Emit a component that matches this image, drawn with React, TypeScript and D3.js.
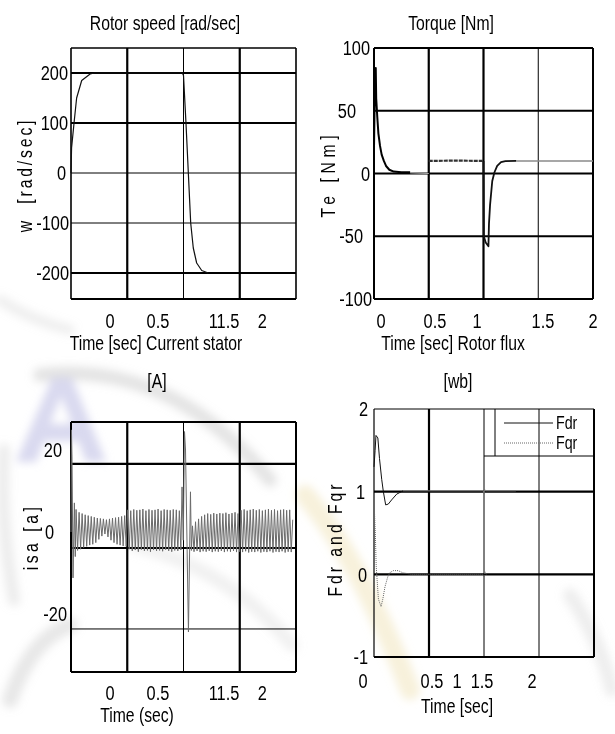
import { useEffect, useRef } from 'react'
import * as d3 from 'd3'

type Pt = [number, number]

// ---------- data ----------

// rotor speed [rad/s] vs time [s]
const speedPts: Pt[] = [
  [0, 0], [0.005, 50], [0.027, 100], [0.05, 150], [0.095, 185], [0.17, 198], [0.21, 200],
  [0.99, 200], [1.0, 195], [1.022, 100], [1.043, 0], [1.064, -100], [1.087, -150],
  [1.117, -180], [1.162, -195], [1.22, -200],
]
const speedTicks = [200, 100, 0, -100, -200]
const speedGridY = [200, 100, 0, -100, -200]

// electromagnetic torque [Nm]
const torqueStart: Pt[] = [
  [0, 20], [0.008, 70], [0.016, 84], [0.02, 60], [0.03, 45], [0.04, 32], [0.055, 22],
  [0.07, 15], [0.09, 10], [0.11, 6], [0.14, 3], [0.18, 1.5], [0.25, 1], [0.33, 1],
]
const torqueIdle: Pt[] = [[0.33, 0.5], [0.5, 0]]
const torqueLoad: Pt[] = [[0.5, 10], [0.75, 10.3], [1.0, 10]]
const torqueReverse: Pt[] = [
  [1.0, 10], [1.003, -50], [1.02, -55], [1.045, -58], [1.05, -40], [1.06, -25],
  [1.08, -6], [1.1, 1], [1.125, 6], [1.16, 9], [1.2, 9.8], [1.3, 10],
]
const torqueSteady: Pt[] = [[1.3, 10], [2.0, 10]]
const torqueTicks = [100, 50, 0, -50, -100]
const torqueGridY = [50, 0, -50]

// stator current isa [A]
const isaKick: Pt[] = [[0, 0], [0.004, 24.9], [0.009, 18.3], [0.018, -11.2], [0.03, 7.1], [0.038, -6]]
const isaWaveAStart = 0.045
const isaWaveA = [
  5.5, -4.5, 4.8, -4.2, 4.5, -3.8, 4.2, -3.5, 4.0, -3.2, 3.8, -3.0, 3.6, -2.6, 3.4, -1.8, 3.3,
  -1.0, 3.2, -0.5, 3.0, -1.2, 3.2, -2.0, 3.4, -2.6, 3.5, -3.0, 3.6, -3.2, 3.8, -3.4, 4.0, -3.5,
  5.4, -4.2, 5.2, -4.6, 5.5, -4.4, 5.3, -4.8, 5.4, -4.3, 5.6, -4.6, 5.2, -4.5, 5.5, -4.8, 5.3,
  -4.4, 5.4, -4.6, 5.6, -4.5, 5.2, -4.7, 5.5, -4.3, 5.4, -4.6, 5.3, -4.8, 5.5, -4.5, 5.4, -4.6,
  5.2, -4.4,
]
const isaStep: Pt[] = [
  [0.987, 11], [0.998, -2], [1.009, 24.5], [1.018, 20], [1.044, -24.4], [1.062, 9.8], [1.07, -4.5],
]
const isaWaveBStart = 1.08
const isaWaveB = [
  1.5, -4.8, 2.5, -4.6, 3.2, -4.9, 3.8, -4.7, 4.2, -4.8, 4.5, -4.6, 4.3, -4.9, 4.6, -4.7, 4.4,
  -4.8, 4.6, -4.6, 4.5, -4.9, 4.7, -4.7, 4.4, -4.8, 4.6, -4.6, 4.8, -4.9, 4.5,
  -4.8, 5.3, -4.9, 5.5, -4.7, 5.2, -5.0, 5.4, -4.8, 5.6, -4.9, 5.3, -4.7, 5.5, -5.0, 5.2, -4.8,
  5.4, -4.9, 5.6, -4.7, 5.3, -5.0, 5.5, -4.8, 5.2, -4.9, 5.4, -4.7, 5.5, -5.0, 5.3, -4.8, 5.4,
  -4.9, 3.0,
]
const isaSampleStep = 0.0135
const isaTicks = [20, 0, -20]
const isaGridY = [16.6, -3.9, -23.65]

// rotor flux components [Wb]
const fdrTransient: Pt[] = [
  [0, 1.3], [0.01, 1.5], [0.018, 1.68], [0.035, 1.65], [0.05, 1.4], [0.07, 1.15], [0.085, 1.0],
  [0.106, 0.84], [0.13, 0.85], [0.16, 0.9], [0.206, 0.97], [0.264, 1.01],
]
const fdrSteady: Pt[] = [
  [0.264, 1.01], [0.995, 1.01], [1.0, 0.97], [1.005, 1.03], [1.012, 1.01], [1.29, 1.01],
]
const fqrPts: Pt[] = [
  [0.005, 0.73], [0.012, 0.5], [0.02, 0.1], [0.04, -0.3], [0.064, -0.39], [0.08, -0.3],
  [0.1, -0.15], [0.125, -0.03], [0.145, 0.02], [0.175, 0.045], [0.22, 0.045], [0.26, 0.02],
  [0.34, 0.0], [0.99, 0], [1.0, -0.03], [1.01, 0.03], [1.02, 0],
]
const fluxTicks = [2, 1, 0, -1]
const fluxGridY = [1, 0]

const timeGridX = [0.5, 1, 1.5]
// tick labels as printed, at the time where each one sits in the figure
const timeLabelsA = ['0', '0.5', '11.5', '2']
const timeLabelPosA = [0.347, 0.773, 1.36, 1.7]
const timeLabelsB = ['0', '0.5', '1', '1.5', '2']
const timeLabelPosB = [0.064, 0.557, 0.94, 1.543, 2.0]
const timeLabelPosC = [-0.1, 0.527, 0.755, 0.982, 1.436]

const FONT = '"Liberation Sans", Arial, sans-serif'
// the figure uses a condensed Arial: squeeze Liberation Sans horizontally
const NARROW_TICK = 0.78
const NARROW_LABEL = 0.75

interface Panel {
  left: number
  top: number
  width: number
  height: number
  yDomain: [number, number]
  gridY: number[]
  gridYW: number[]
  gridXW: number[]
  border: [number, number, number, number] // top right bottom left
  ticks: number[]
  tickRight: number[] // right edge of each y tick label (the scan is not aligned)
  xLabels: string[]
  xLabelPos: number[]
  xLabelBase: number
}

export default function App() {
  const svgRef = useRef<SVGSVGElement>(null)

  useEffect(() => {
    if (!svgRef.current) return
    const svg = d3.select(svgRef.current)
    svg.selectAll('*').remove()

    const defs = svg.append('defs')
    defs.append('filter').attr('id', 'soft')
      .attr('x', '-20%').attr('y', '-20%').attr('width', '140%').attr('height', '140%')
      .append('feGaussianBlur').attr('stdDeviation', 4)

    // faint watermark behind the figure
    const wm = svg.append('g').attr('filter', 'url(#soft)')
    const band = (d: string, color: string, w: number, op: number) => {
      wm.append('path').attr('d', d).attr('fill', 'none')
        .attr('stroke', color).attr('stroke-width', w).attr('opacity', op)
        .attr('stroke-linecap', 'round')
    }
    band('M40,375 Q170,360 270,480', '#c4c4c4', 14, 0.45)
    band('M4,450 Q0,520 14,600', '#c8c8c8', 12, 0.35)
    band('M135,545 Q230,570 292,645', '#d6d6d6', 14, 0.35)
    band('M10,700 Q30,640 70,625', '#bdbdbd', 16, 0.35)
    band('M305,495 Q360,560 410,690', '#efe4b8', 20, 0.5)
    band('M570,595 Q600,640 612,690', '#cfcfcf', 14, 0.35)
    band('M0,300 Q30,320 70,330', '#c8c8c8', 10, 0.3)
    wm.append('path')
      .attr('d', 'M16,462 L52,378 L72,378 L106,462 L86,462 L78,441 L44,441 L36,462 Z M50,424 L72,424 L61,396 Z')
      .attr('fill', '#ccccea')
      .attr('fill-rule', 'evenodd')
      .attr('opacity', 0.75)

    const text = (s: string, xx: number, yy: number, size: number, sx: number, anchor = 'middle', baseline = 'auto') =>
      svg.append('text')
        .text(s)
        .attr('transform', `translate(${xx},${yy}) scale(${sx},1)`)
        .attr('text-anchor', anchor)
        .attr('dominant-baseline', baseline)
        .attr('font-family', FONT)
        .attr('font-size', size)
        .attr('fill', '#000')

    const drawPanel = (p: Panel) => {
      const x = d3.scaleLinear().domain([0, 2]).range([p.left, p.left + p.width])
      const y = d3.scaleLinear().domain(p.yDomain).range([p.top + p.height, p.top])
      const g = svg.append('g')

      // grid
      p.gridY.forEach((v, i) => {
        g.append('line')
          .attr('x1', p.left).attr('x2', p.left + p.width)
          .attr('y1', y(v)).attr('y2', y(v))
          .attr('stroke', '#000').attr('stroke-width', p.gridYW[i])
      })
      timeGridX.forEach((v, i) => {
        g.append('line')
          .attr('x1', x(v)).attr('x2', x(v))
          .attr('y1', p.top).attr('y2', p.top + p.height)
          .attr('stroke', '#000').attr('stroke-width', p.gridXW[i])
      })

      // frame
      const [bt, br, bb, bl] = p.border
      const R = p.left + p.width
      const B = p.top + p.height
      g.append('line').attr('x1', p.left).attr('x2', R).attr('y1', p.top).attr('y2', p.top)
        .attr('stroke', '#000').attr('stroke-width', bt)
      g.append('line').attr('x1', R).attr('x2', R).attr('y1', p.top).attr('y2', B)
        .attr('stroke', '#000').attr('stroke-width', br)
      g.append('line').attr('x1', p.left).attr('x2', R).attr('y1', B).attr('y2', B)
        .attr('stroke', '#000').attr('stroke-width', bb)
      g.append('line').attr('x1', p.left).attr('x2', p.left).attr('y1', p.top).attr('y2', B)
        .attr('stroke', '#000').attr('stroke-width', bl)

      // tick labels
      p.ticks.forEach((v, i) => text(String(v), p.tickRight[i], y(v), 21, NARROW_TICK, 'end', 'central'))
      p.xLabels.forEach((s, i) => text(s, x(p.xLabelPos[i]), p.xLabelBase, 21, NARROW_TICK))

      const line = d3.line<Pt>().x(d => x(d[0])).y(d => y(d[1]))
      const trace = (pts: Pt[], color: string, w: number, dash = 'none') => {
        g.append('path')
          .datum(pts)
          .attr('d', line)
          .attr('fill', 'none')
          .attr('stroke', color)
          .attr('stroke-width', w)
          .attr('stroke-dasharray', dash)
          .attr('stroke-linejoin', 'round')
      }
      return { x, y, g, trace }
    }

    const yLabel = (s: string, xx: number, yy: number, spacing: number) => {
      svg.append('text')
        .text(s)
        .attr('transform', `translate(${xx},${yy}) rotate(-90) scale(${NARROW_LABEL},1)`)
        .attr('text-anchor', 'middle')
        .attr('dominant-baseline', 'central')
        .attr('font-family', FONT)
        .attr('font-size', 21)
        .attr('letter-spacing', spacing)
        .attr('fill', '#000')
        .style('white-space', 'pre')
    }

    // Rotor speed
    const p1 = drawPanel({
      left: 71, top: 48, width: 225, height: 251,
      yDomain: [-252, 250], gridY: speedGridY, gridYW: [2.2, 2.2, 1, 1, 2.2], gridXW: [2.2, 1, 2.2],
      border: [1.6, 1.6, 2, 1.6],
      ticks: speedTicks, tickRight: [68, 68, 66, 69, 69],
      xLabels: timeLabelsA, xLabelPos: timeLabelPosA, xLabelBase: 328,
    })
    p1.trace(speedPts, '#111', 1.2)
    text('Rotor speed [rad/sec]', 165, 30, 21, NARROW_LABEL)
    text('Time [sec] Current stator', 156, 350, 21, NARROW_LABEL)
    yLabel('w  [rad/sec]', 25, 175, 3.8)

    // Torque
    const p2 = drawPanel({
      left: 374, top: 48, width: 219, height: 251,
      yDomain: [-100, 100], gridY: torqueGridY, gridYW: [2.2, 2.2, 2.2], gridXW: [2.2, 2.2, 1],
      border: [2, 2, 2, 2],
      ticks: torqueTicks, tickRight: [370, 356, 370, 363, 372],
      xLabels: timeLabelsB, xLabelPos: timeLabelPosB, xLabelBase: 328,
    })
    p2.trace(torqueStart, '#000', 2)
    p2.trace(torqueIdle, '#b0b0b0', 1)
    p2.trace(torqueLoad, '#333', 2.2, '4,1')
    p2.trace(torqueReverse, '#111', 1.8)
    p2.trace(torqueSteady, '#8a8a8a', 1.6)
    text('Torque [Nm]', 451, 30, 21, NARROW_LABEL)
    text('Time [sec] Rotor flux', 453, 350, 21, NARROW_LABEL)
    yLabel('Te [Nm]', 328, 174, 6.2)

    // Stator current
    const p3 = drawPanel({
      left: 71, top: 422, width: 225, height: 250,
      yDomain: [-34.15, 26.83], gridY: isaGridY, gridYW: [2.2, 2.2, 1], gridXW: [2.2, 1, 2.2],
      border: [2.2, 2, 2, 2],
      ticks: isaTicks, tickRight: [62, 54, 67],
      xLabels: timeLabelsA, xLabelPos: timeLabelPosA, xLabelBase: 700,
    })
    const isaPts: Pt[] = [
      ...isaKick,
      ...isaWaveA.map((v, i): Pt => [isaWaveAStart + i * isaSampleStep, v]),
      ...isaStep,
      ...isaWaveB.map((v, i): Pt => [isaWaveBStart + i * isaSampleStep, v]),
    ]
    p3.trace(isaPts, '#6a6a6a', 1)
    text('[A]', 157, 388, 21, NARROW_LABEL)
    text('Time (sec)', 137, 722, 21, NARROW_LABEL)
    yLabel('isa [a]', 31, 537, 4.7)

    // Rotor flux
    const p4 = drawPanel({
      left: 374, top: 409, width: 220, height: 248,
      yDomain: [-1, 2], gridY: fluxGridY, gridYW: [2.4, 2.4], gridXW: [2.2, 1, 1],
      border: [1, 2, 2.2, 1.2],
      ticks: fluxTicks, tickRight: [368, 365, 367, 368],
      xLabels: timeLabelsB, xLabelPos: timeLabelPosC, xLabelBase: 688,
    })
    p4.trace(fdrTransient, '#111', 1)
    p4.trace(fdrSteady, '#777', 1)
    p4.trace(fqrPts, '#666', 1, '1,1')
    // legend box
    p4.g.append('line').attr('x1', 495).attr('x2', 495).attr('y1', 409).attr('y2', 456)
      .attr('stroke', '#000').attr('stroke-width', 1)
    p4.g.append('line').attr('x1', p4.x(1)).attr('x2', 594).attr('y1', 456).attr('y2', 456)
      .attr('stroke', '#000').attr('stroke-width', 1)
    p4.g.append('line').attr('x1', 504).attr('x2', 553).attr('y1', 423).attr('y2', 423)
      .attr('stroke', '#111').attr('stroke-width', 1)
    p4.g.append('line').attr('x1', 504).attr('x2', 553).attr('y1', 443).attr('y2', 443)
      .attr('stroke', '#666').attr('stroke-width', 1).attr('stroke-dasharray', '1,1')
    text('Fdr', 556, 429, 19, NARROW_LABEL, 'start')
    text('Fqr', 556, 449, 19, NARROW_LABEL, 'start')
    text('[wb]', 458, 388, 21, NARROW_LABEL)
    text('Time [sec]', 457, 713, 21, NARROW_LABEL)
    yLabel('Fdr and Fqr', 335, 539, 4)
  }, [])

  return (
    <svg
      ref={svgRef}
      width={615}
      height={734}
      style={{ position: 'absolute', left: 0, top: 0, background: '#fff' }}
    />
  )
}
